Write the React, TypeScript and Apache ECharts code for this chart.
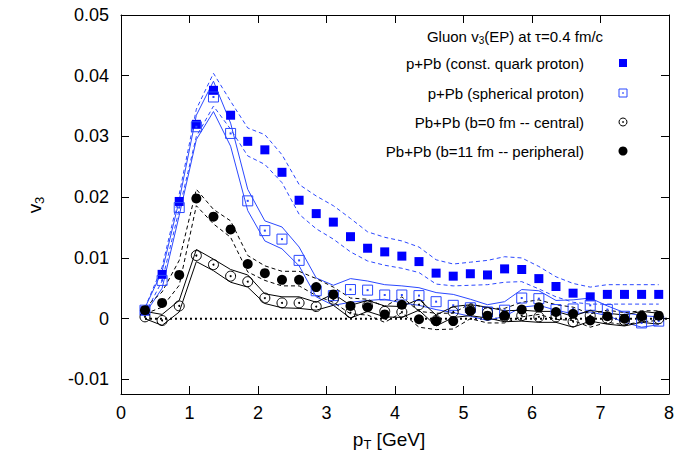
import React, { useEffect, useRef } from "react";
import * as echarts from "echarts";

const pT = [0.35, 0.6, 0.85, 1.1, 1.35, 1.6, 1.85, 2.1, 2.35, 2.6, 2.85, 3.1, 3.35, 3.6, 3.85, 4.1, 4.35, 4.6, 4.85, 5.1, 5.35, 5.6, 5.85, 6.1, 6.35, 6.6, 6.85, 7.1, 7.35, 7.6, 7.85];

const constQuark = [0.0013, 0.0073, 0.0193, 0.0320, 0.0376, 0.0335, 0.0292, 0.0278, 0.0241, 0.0195, 0.0173, 0.0159, 0.0135, 0.0116, 0.0110, 0.0103, 0.0094, 0.0075, 0.0070, 0.0074, 0.0072, 0.0082, 0.0081, 0.0066, 0.0053, 0.0042, 0.0036, 0.0040, 0.0040, 0.0040, 0.0040];
const constQuarkHi = [0.0018, 0.0085, 0.0205, 0.0345, 0.0404, 0.0358, 0.0314, 0.0303, 0.0270, 0.0221, 0.0202, 0.0186, 0.0165, 0.0143, 0.0134, 0.0128, 0.0118, 0.0097, 0.0090, 0.0093, 0.0096, 0.0102, 0.0100, 0.0086, 0.0069, 0.0058, 0.0052, 0.0056, 0.0056, 0.0056, 0.0056];
const constQuarkLo = [0.0008, 0.0062, 0.0180, 0.0300, 0.0350, 0.0312, 0.0268, 0.0254, 0.0224, 0.0172, 0.0148, 0.0131, 0.0110, 0.0095, 0.0088, 0.0083, 0.0076, 0.0057, 0.0054, 0.0055, 0.0056, 0.0060, 0.0061, 0.0049, 0.0036, 0.0027, 0.0024, 0.0024, 0.0024, 0.0024, 0.0024];

const spherical = [0.0014, 0.0063, 0.0183, 0.0316, 0.0365, 0.0305, 0.0194, 0.0145, 0.0131, 0.0096, 0.0046, 0.0038, 0.0048, 0.0047, 0.0039, 0.0039, 0.0038, 0.0028, 0.0022, 0.0018, 0.0011, 0.0014, 0.0034, 0.0033, 0.0015, 0.0016, 0.0022, 0.0015, 0.0004, -0.0007, -0.0004];
const sphericalHi = [0.0018, 0.0078, 0.0195, 0.0335, 0.0391, 0.0322, 0.0213, 0.0161, 0.0151, 0.0118, 0.0067, 0.0055, 0.0066, 0.0062, 0.0056, 0.0054, 0.0051, 0.0043, 0.0040, 0.0032, 0.0023, 0.0028, 0.0048, 0.0046, 0.0030, 0.0031, 0.0034, 0.0021, 0.0010, 0.0005, 0.0003];
const sphericalLo = [0.0008, 0.0050, 0.0170, 0.0295, 0.0341, 0.0284, 0.0178, 0.0128, 0.0115, 0.0087, 0.0036, 0.0022, 0.0027, 0.0030, 0.0032, 0.0026, 0.0022, 0.0015, 0.0010, 0.0004, -0.0003, 0.0004, 0.0019, 0.0022, 0.0014, 0.0008, 0.0011, 0.0005, -0.0006, -0.0014, -0.0010];

const peripheral = [0.0014, 0.0026, 0.0072, 0.0198, 0.0168, 0.0147, 0.0090, 0.0075, 0.0064, 0.0064, 0.0052, 0.0040, 0.0021, 0.0019, 0.0007, 0.0023, -0.0001, -0.0004, -0.0004, 0.0013, 0.0005, 0.0005, 0.0015, 0.0019, 0.0011, 0.0008, -0.0003, 0.0004, 0.0000, 0.0004, 0.0005];
const peripheralHi = [0.0018, 0.0044, 0.0096, 0.0213, 0.0180, 0.0161, 0.0104, 0.0087, 0.0078, 0.0078, 0.0066, 0.0052, 0.0034, 0.0032, 0.0020, 0.0036, 0.0012, 0.0009, 0.0009, 0.0025, 0.0017, 0.0017, 0.0027, 0.0031, 0.0023, 0.0019, 0.0008, 0.0014, 0.0010, 0.0013, 0.0013];
const peripheralLo = [0.0008, 0.0019, 0.0055, 0.0186, 0.0156, 0.0134, 0.0077, 0.0063, 0.0054, 0.0054, 0.0038, 0.0027, 0.0008, 0.0006, -0.0006, 0.0010, -0.0014, -0.0018, -0.0017, 0.0000, -0.0007, -0.0007, 0.0003, 0.0007, -0.0001, -0.0003, -0.0014, -0.0006, -0.0010, -0.0005, -0.0003];

const central = [0.0003, -0.0003, 0.0021, 0.0104, 0.0089, 0.0070, 0.0061, 0.0034, 0.0026, 0.0026, 0.0020, 0.0032, 0.0010, 0.0021, 0.0012, 0.0011, 0.0023, -0.0003, 0.0011, 0.0014, 0.0010, 0.0004, 0.0005, 0.0003, 0.0003, -0.0005, 0.0005, 0.0000, -0.0003, 0.0003, 0.0000];
const centralHi = [0.0012, 0.0007, 0.0030, 0.0114, 0.0098, 0.0081, 0.0072, 0.0041, 0.0036, 0.0036, 0.0027, 0.0041, 0.0022, 0.0030, 0.0021, 0.0020, 0.0032, 0.0006, 0.0020, 0.0023, 0.0019, 0.0013, 0.0014, 0.0012, 0.0012, 0.0004, 0.0014, 0.0009, 0.0006, 0.0012, 0.0009];
const centralLo = [0.0000, -0.0011, 0.0011, 0.0094, 0.0079, 0.0060, 0.0052, 0.0025, 0.0018, 0.0017, 0.0014, 0.0022, 0.0001, 0.0012, 0.0003, 0.0002, 0.0014, -0.0012, 0.0002, 0.0005, 0.0001, -0.0005, -0.0004, -0.0006, -0.0006, -0.0014, -0.0004, -0.0009, -0.0012, -0.0006, -0.0009];

const yTicks = [-0.01, 0, 0.01, 0.02, 0.03, 0.04, 0.05];
const legendLabels = [
  "p+Pb (const. quark proton)",
  "p+Pb (spherical proton)",
  "Pb+Pb (b=0 fm -- central)",
  "Pb+Pb (b=11 fm -- peripheral)",
];

const FONT = "'Liberation Sans', Arial, Helvetica, sans-serif";
const BLUE = "#0000ff";
const LBLUE = "#2b48ff";
const BLACK = "#000000";

const pts = (arr: number[]) => pT.map((x, i) => [x, arr[i]]);

function bandLine(arr: number[], color: string, type: any) {
  return {
    type: "line",
    data: pts(arr),
    symbol: "none",
    showSymbol: false,
    silent: true,
    z: 2,
    lineStyle: { color, width: 1, type },
  };
}

export default function App() {
  const ref = useRef<HTMLDivElement>(null);
  useEffect(() => {
    if (!ref.current) return;
    const chart = echarts.init(ref.current, undefined, { renderer: "svg" });
    const dash = [4, 3];
    const baseAxis = {
      type: "value",
      axisLine: { show: true, onZero: false, lineStyle: { color: BLACK, width: 1 } },
      splitLine: { show: false },
    };
    const rich = {
      a: { fontSize: 19, fontFamily: FONT, color: BLACK },
      s: { fontSize: 13, fontFamily: FONT, color: BLACK, padding: [10, 0, 0, 0] },
    };
    const legRich = {
      a: { fontSize: 15, fontFamily: FONT, color: BLACK },
      s: { fontSize: 10, fontFamily: FONT, color: BLACK, padding: [8, 0, 0, 0] },
    };
    const legY = [63, 93, 122, 151];
    const symX = 623;
    const option: any = {
      animation: false,
      backgroundColor: "#ffffff",
      grid: { left: 121, right: 5, top: 15, bottom: 59, containLabel: false },
      xAxis: [
        {
          ...baseAxis,
          min: 0,
          max: 8,
          interval: 1,
          position: "bottom",
          axisTick: { show: true, inside: true, length: 8, lineStyle: { color: BLACK } },
          axisLabel: { show: true, fontSize: 18, color: BLACK, fontFamily: FONT, margin: 10 },
        },
        {
          ...baseAxis,
          min: 0,
          max: 8,
          interval: 1,
          position: "top",
          axisTick: { show: true, inside: true, length: 8, lineStyle: { color: BLACK } },
          axisLabel: { show: false },
        },
      ],
      yAxis: [
        {
          ...baseAxis,
          min: -0.0124,
          max: 0.05,
          position: "left",
          axisTick: { show: true, inside: true, length: 8, lineStyle: { color: BLACK }, customValues: yTicks },
          axisLabel: {
            show: true,
            fontSize: 18,
            color: BLACK,
            fontFamily: FONT,
            margin: 12,
            customValues: yTicks,
            formatter: (v: number) => (Math.abs(v) < 1e-9 ? "0" : String(Number(v.toFixed(2)))),
          },
        },
        {
          ...baseAxis,
          min: -0.0124,
          max: 0.05,
          position: "right",
          axisTick: { show: true, inside: true, length: 8, lineStyle: { color: BLACK }, customValues: yTicks },
          axisLabel: { show: false },
        },
      ],
      series: [
        {
          type: "line",
          data: [[0.35, 0], [8, 0]],
          symbol: "none",
          silent: true,
          z: 1,
          lineStyle: { color: BLACK, width: 2, type: [2, 3] },
        },
        bandLine(constQuarkHi, LBLUE, dash),
        bandLine(constQuarkLo, LBLUE, dash),
        bandLine(sphericalHi, LBLUE, "solid"),
        bandLine(sphericalLo, LBLUE, "solid"),
        bandLine(peripheralHi, BLACK, dash),
        bandLine(peripheralLo, BLACK, dash),
        bandLine(centralHi, BLACK, "solid"),
        bandLine(centralLo, BLACK, "solid"),
        {
          name: legendLabels[0],
          type: "scatter",
          data: pts(constQuark),
          symbol: "rect",
          symbolSize: 9,
          itemStyle: { color: BLUE, opacity: 1 },
          z: 5,
        },
        {
          name: legendLabels[1],
          type: "scatter",
          data: pts(spherical),
          symbol: "rect",
          symbolSize: 10,
          itemStyle: { color: "rgba(0,0,0,0)", borderColor: LBLUE, borderWidth: 1, opacity: 1 },
          z: 5,
        },
        {
          type: "scatter",
          data: pts(spherical),
          symbol: "rect",
          symbolSize: 2,
          itemStyle: { color: LBLUE, opacity: 1 },
          z: 5,
        },
        {
          name: legendLabels[2],
          type: "scatter",
          data: pts(central),
          symbol: "circle",
          symbolSize: 10,
          itemStyle: { color: "rgba(0,0,0,0)", borderColor: BLACK, borderWidth: 1, opacity: 1 },
          z: 5,
        },
        {
          type: "scatter",
          data: pts(central),
          symbol: "circle",
          symbolSize: 2,
          itemStyle: { color: BLACK, opacity: 1 },
          z: 5,
        },
        {
          name: legendLabels[3],
          type: "scatter",
          data: pts(peripheral),
          symbol: "circle",
          symbolSize: 10,
          itemStyle: { color: BLACK, opacity: 1 },
          z: 6,
        },
      ],
      graphic: [
        {
          type: "text",
          x: 515,
          y: 36,
          z: 10,
          style: {
            text: "{a|Gluon v}{s|3}{a|(EP) at τ=0.4 fm/c}",
            rich: legRich,
            align: "center",
            verticalAlign: "middle",
          },
        },
        ...legendLabels.map((t, i) => ({
          type: "text",
          x: 584,
          y: legY[i],
          z: 10,
          style: {
            text: t,
            fontSize: 15,
            fontFamily: FONT,
            fill: BLACK,
            align: "right",
            verticalAlign: "middle",
          },
        })),
        { type: "rect", z: 10, shape: { x: symX - 4, y: legY[0] - 4, width: 8, height: 8 }, style: { fill: BLUE } },
        { type: "rect", z: 10, shape: { x: symX - 4, y: legY[1] - 4, width: 8, height: 8 }, style: { fill: "none", stroke: LBLUE, lineWidth: 1 } },
        { type: "rect", z: 10, shape: { x: symX - 0.75, y: legY[1] - 0.75, width: 1.5, height: 1.5 }, style: { fill: LBLUE } },
        { type: "circle", z: 10, shape: { cx: symX, cy: legY[2], r: 4 }, style: { fill: "none", stroke: BLACK, lineWidth: 1 } },
        { type: "circle", z: 10, shape: { cx: symX, cy: legY[2], r: 0.8 }, style: { fill: BLACK } },
        { type: "circle", z: 10, shape: { cx: symX, cy: legY[3], r: 4.5 }, style: { fill: BLACK } },
        {
          type: "text",
          x: 389,
          y: 439,
          z: 10,
          style: {
            text: "{a|p}{s|T}{a| [GeV]}",
            rich,
            align: "center",
            verticalAlign: "middle",
          },
        },
        {
          type: "text",
          x: 34,
          y: 205,
          rotation: Math.PI / 2,
          z: 10,
          style: {
            text: "{a|v}{s|3}",
            rich,
            align: "center",
            verticalAlign: "middle",
          },
        },
      ],
    };
    chart.setOption(option);
    return () => chart.dispose();
  }, []);
  return (
    <div
      ref={ref}
      style={{ position: "fixed", left: 0, top: 0, width: 677, height: 453, background: "#fff" }}
    />
  );
}
